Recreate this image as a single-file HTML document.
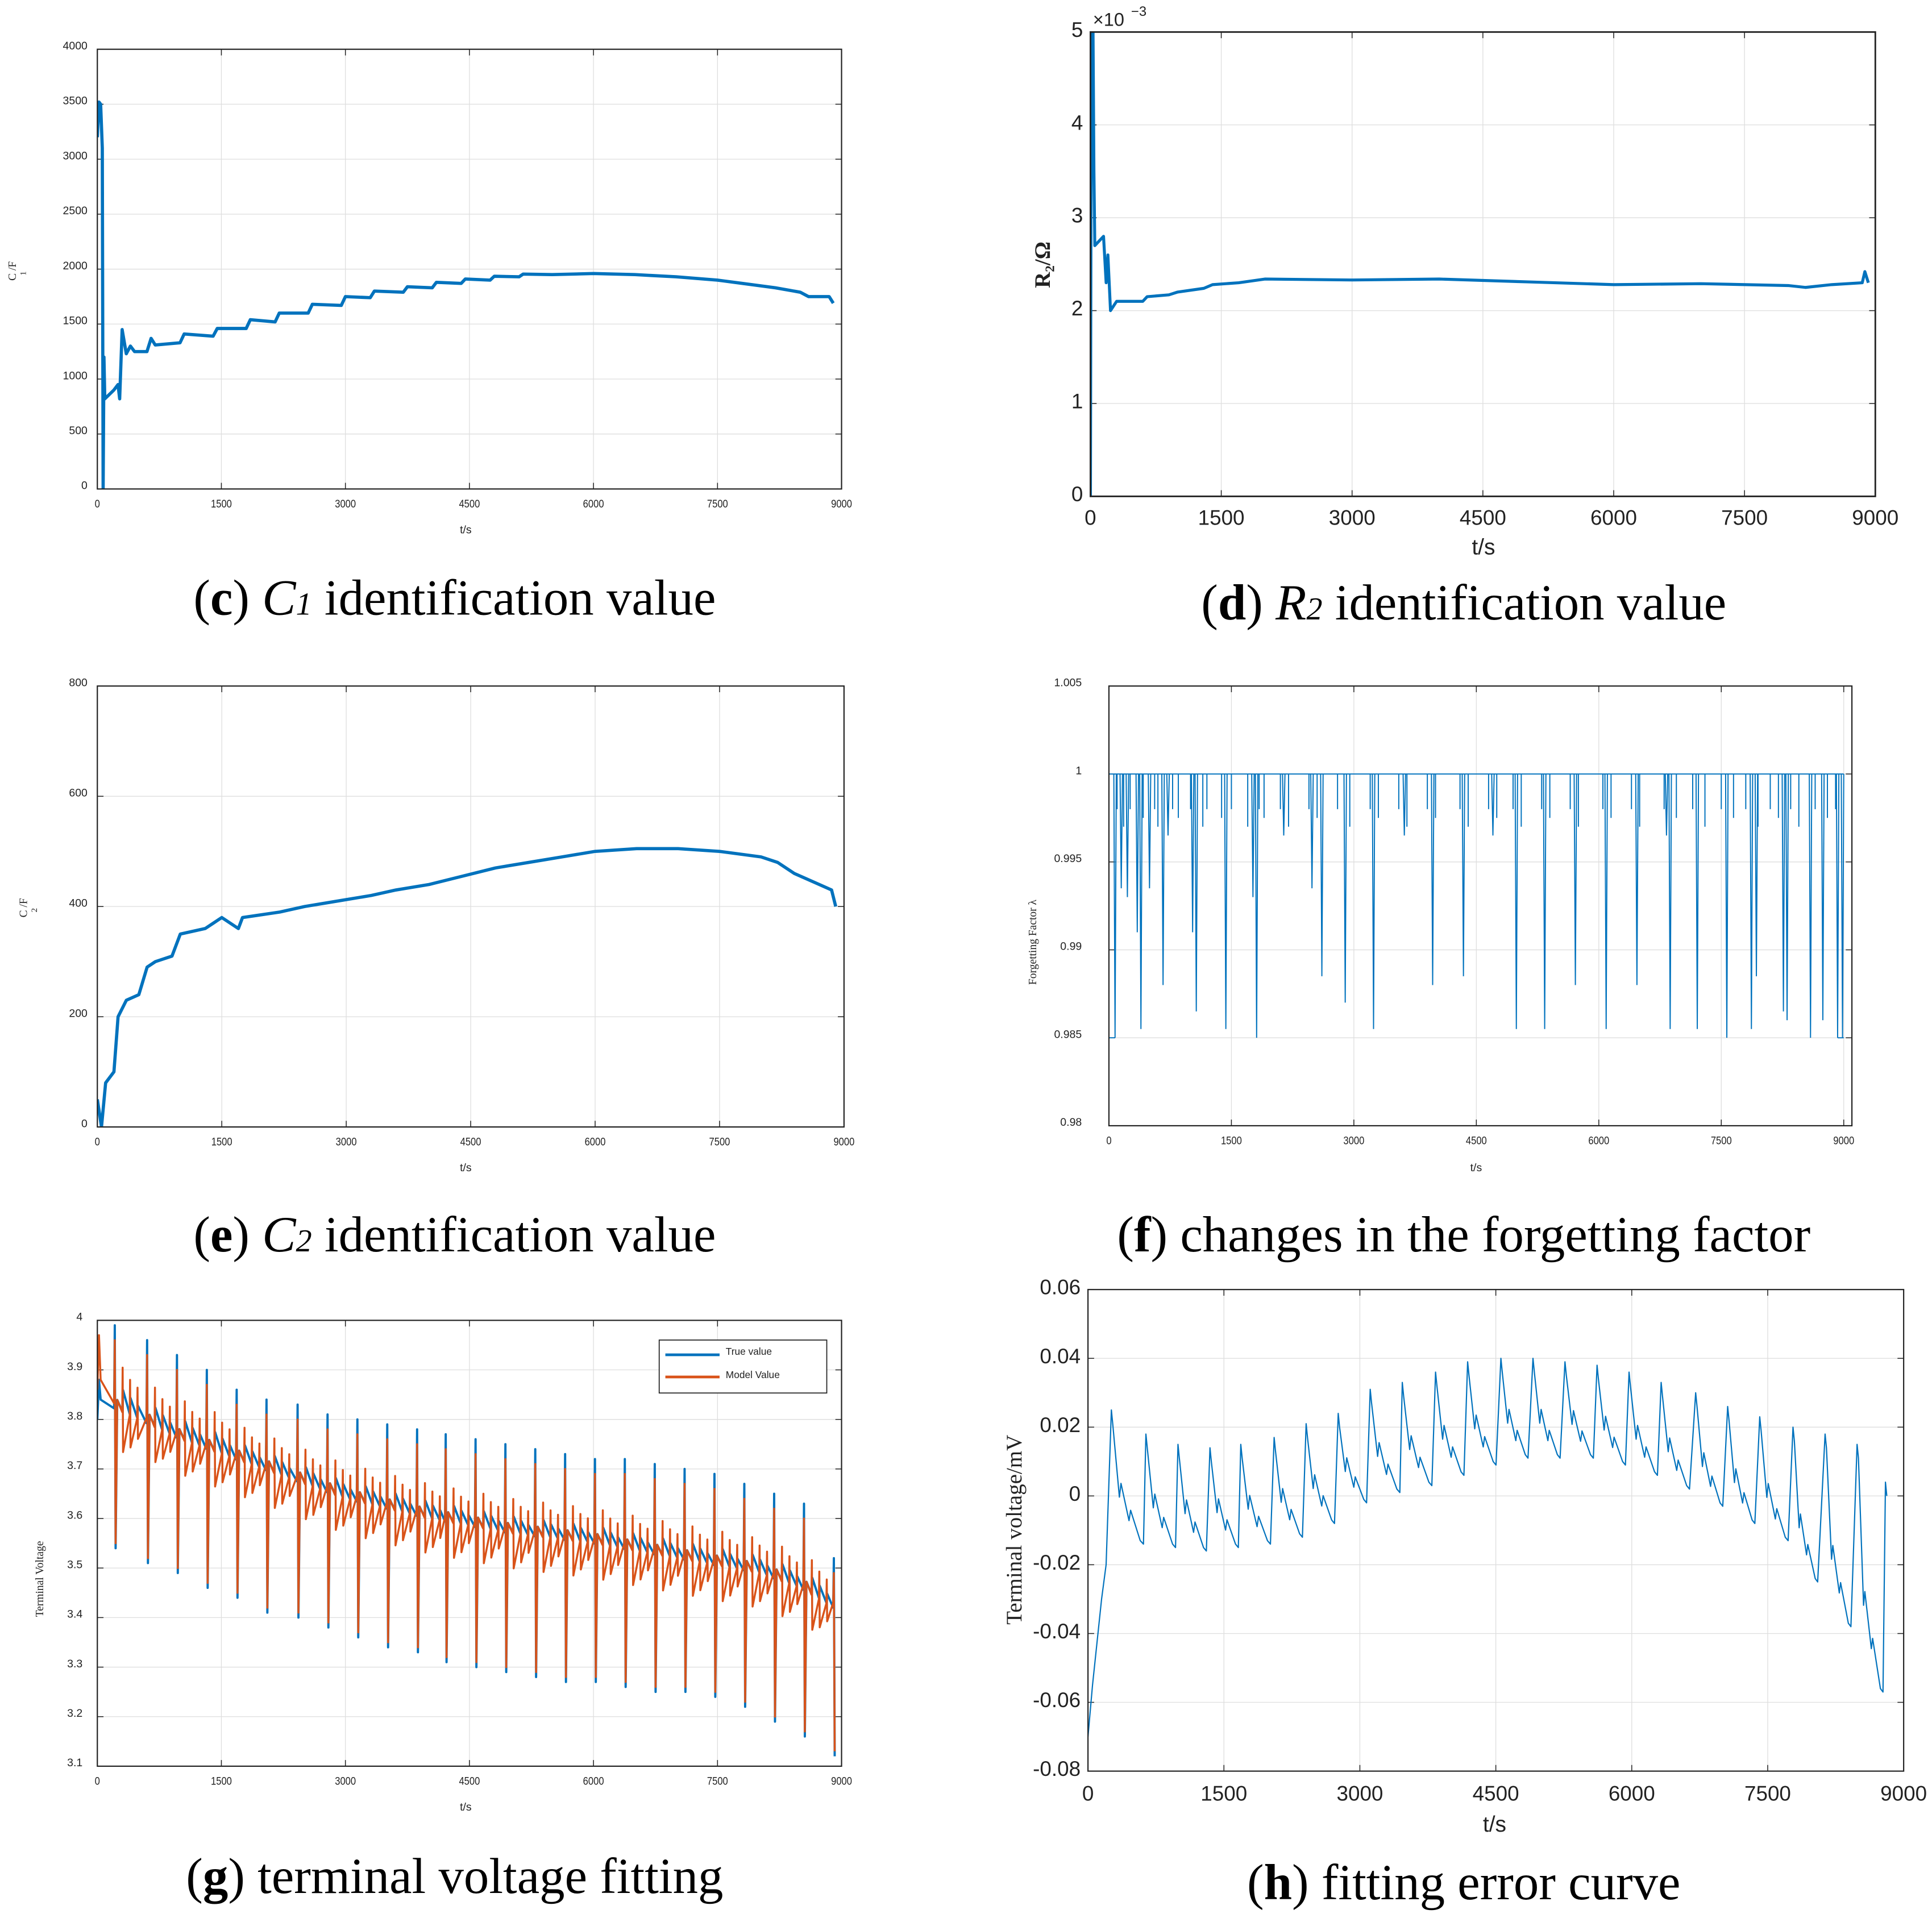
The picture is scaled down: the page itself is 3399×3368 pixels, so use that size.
<!DOCTYPE html>
<html><head><meta charset="utf-8"><style>
html,body{margin:0;padding:0;background:#fff}
svg{display:block}
</style></head><body>
<svg id="fig" xmlns="http://www.w3.org/2000/svg" width="3399" height="3368" viewBox="0 0 1568 1554" preserveAspectRatio="none"></svg>
<script>
// ---------- DATA ----------
const xTicks = [0,1500,3000,4500,6000,7500,9000];
// (c) C1
const c1T = [0,20,40,60,70,80,90,200,250,270,300,350,400,450,600,650,700,1000,1050,1400,1450,1800,1850,2150,2200,2550,2600,2950,3000,3300,3350,3700,3750,4050,4100,4400,4450,4750,4800,5100,5150,5500,6000,6500,7000,7500,7800,8200,8500,8600,8850,8900];
const c1V = [3200,3520,3500,3100,0,1200,820,900,950,820,1450,1230,1300,1250,1250,1370,1310,1330,1410,1390,1460,1460,1540,1520,1600,1600,1680,1670,1750,1740,1800,1790,1840,1830,1880,1870,1910,1900,1935,1930,1955,1950,1960,1950,1930,1900,1870,1830,1790,1750,1750,1690];
const c1Yticks = [0,500,1000,1500,2000,2500,3000,3500,4000];
// (d) R2 (x1e-3)
const r2T = [0,10,30,40,50,150,180,200,230,300,600,650,900,1000,1300,1400,1700,2000,3000,4000,5000,6000,7000,8000,8200,8500,8850,8880,8920];
const r2V = [0,5,5,3.5,2.7,2.8,2.3,2.6,2.0,2.1,2.1,2.15,2.17,2.2,2.24,2.28,2.3,2.34,2.33,2.34,2.31,2.28,2.29,2.27,2.25,2.28,2.3,2.42,2.3];
const r2Yticks = [0,1,2,3,4,5];
// (e) C2
const c2T = [0,50,100,200,250,350,500,600,700,900,1000,1300,1400,1500,1700,1750,2200,2500,2900,3300,3600,4000,4400,4800,5200,5600,6000,6500,7000,7500,8000,8200,8400,8700,8850,8900];
const c2V = [50,0,80,100,200,230,240,290,300,310,350,360,370,380,360,380,390,400,410,420,430,440,455,470,480,490,500,505,505,500,490,480,460,440,430,400];
const c2Yticks = [0,200,400,600,800];
// (f) forgetting factor dips
const ffDipT = [75,151,226,347,392,497,663,724,1025,1070,1432,1764,1809,2141,2487,2608,2894,3241,3618,3965,4342,4703,4990,5337,5713,6090,6467,6829,6874,7206,7568,7869,7930,8261,8306,8593,8744,8925,8985];
const ffDipV = [0.985,0.9935,0.993,0.991,0.9855,0.9935,0.988,0.9965,0.991,0.9865,0.9855,0.993,0.985,0.9965,0.9935,0.9885,0.987,0.9855,0.9965,0.988,0.9885,0.9965,0.9855,0.9855,0.988,0.9855,0.988,0.9965,0.9855,0.9855,0.985,0.9855,0.9885,0.9865,0.986,0.985,0.986,0.985,0.985];
const ffSmallT = [100,180,260,420,560,600,780,850,1000,1150,1200,1380,1500,1700,1840,1900,2100,2200,2450,2550,2800,2950,3200,3300,3550,3650,3900,4000,4300,4400,4650,4750,4950,5050,5300,5400,5650,5750,6050,6150,6400,6500,6800,6950,7150,7300,7500,7650,7800,7950,8100,8200,8350,8450,8650,8800,8900];
const ffSmallV = [0.998,0.997,0.998,0.9975,0.998,0.997,0.998,0.9975,0.998,0.997,0.998,0.9975,0.998,0.997,0.998,0.9975,0.998,0.997,0.998,0.9975,0.998,0.997,0.998,0.9975,0.998,0.997,0.998,0.9975,0.998,0.997,0.998,0.9975,0.998,0.997,0.998,0.9975,0.998,0.997,0.998,0.9975,0.998,0.997,0.998,0.9975,0.998,0.997,0.998,0.9975,0.998,0.997,0.998,0.9975,0.998,0.997,0.998,0.9975,0.998];
const ffYticks = [0.98,0.985,0.99,0.995,1,1.005];
const ffYlabels = ['0.98','0.985','0.99','0.995','1','1.005'];
// (g) terminal voltage
const gBaseT = [0,100,500,1000,2000,3000,4000,5000,6000,7000,8000,8500,8900];
const gBaseV = [3.80,3.83,3.80,3.76,3.70,3.64,3.60,3.57,3.55,3.52,3.49,3.46,3.42];
const gPulseT = [211,602,963,1324,1685,2046,2422,2784,3145,3506,3867,4213,4574,4935,5296,5657,6018,6379,6741,7102,7463,7824,8185,8546,8907];
const gPulseHi = [3.99,3.96,3.93,3.90,3.86,3.84,3.83,3.81,3.80,3.79,3.78,3.77,3.76,3.75,3.74,3.73,3.72,3.72,3.71,3.70,3.69,3.67,3.65,3.63,3.52];
const gPulseLo = [3.54,3.51,3.49,3.46,3.44,3.41,3.40,3.38,3.36,3.34,3.33,3.31,3.30,3.29,3.28,3.27,3.27,3.26,3.25,3.25,3.24,3.22,3.19,3.16,3.12];
const gMinorHi = [0.09,0.08,0.08,0.08,0.07,0.07,0.07,0.07,0.07,0.07,0.07,0.07,0.07,0.07,0.07,0.07,0.07,0.07,0.07,0.07,0.07,0.07,0.07,0.07,0.07];
const gMinorLo = [-0.08,-0.07,-0.07,-0.07,-0.07,-0.07,-0.07,-0.07,-0.07,-0.07,-0.07,-0.07,-0.07,-0.07,-0.07,-0.07,-0.07,-0.07,-0.07,-0.07,-0.07,-0.07,-0.07,-0.07,-0.07];
const gYticks = [3.1,3.2,3.3,3.4,3.5,3.6,3.7,3.8,3.9,4];
// (h) error
const hStartT = [0,50,150,200];
const hStartV = [-0.07,-0.055,-0.03,-0.02];
const hPeakT = [258,639,993,1346,1686,2054,2407,2761,3114,3468,3835,4189,4556,4910,5263,5617,5970,6324,6705,7058,7412,7779,8133,8486,8799];
const hPeakV = [0.025,0.018,0.015,0.014,0.015,0.017,0.021,0.024,0.031,0.033,0.036,0.039,0.040,0.040,0.039,0.038,0.036,0.033,0.030,0.026,0.023,0.020,0.018,0.015,0.004];
const hTroughT = [612,966,1306,1659,2013,2366,2720,3074,3441,3794,4148,4502,4855,5209,5576,5930,6283,6637,7004,7358,7725,8051,8418,8772];
const hTroughV = [-0.014,-0.015,-0.016,-0.015,-0.014,-0.012,-0.008,-0.002,0.001,0.003,0.006,0.009,0.011,0.011,0.011,0.009,0.006,0.002,-0.003,-0.008,-0.013,-0.025,-0.038,-0.057];
const hYticks = [-0.08,-0.06,-0.04,-0.02,0,0.02,0.04,0.06];
const hYlabels = ['-0.08','-0.06','-0.04','-0.02','0','0.02','0.04','0.06'];

// ---------- HELPERS ----------
const NS='http://www.w3.org/2000/svg';
const svg=document.getElementById('fig');
const defs=document.createElementNS(NS,'defs');svg.appendChild(defs);
let clipN=0;
function el(tag,attrs,parent){const e=document.createElementNS(NS,tag);for(const k in attrs)e.setAttribute(k,attrs[k]);(parent||svg).appendChild(e);return e;}
function txt(parent,x,y,s,fs,anchor,extra){const t=el('text',Object.assign({x:x,y:y,'font-size':fs,'text-anchor':anchor||'middle','font-family':'"Liberation Sans",sans-serif',fill:'#222'},extra||{}),parent);t.textContent=s;return t;}
function axes(o){
  const g=el('g',{});
  
  
  const sx=v=>o.x0+(v-o.xmin)/(o.xmax-o.xmin)*(o.x1-o.x0);
  const sy=v=>o.y1-(v-o.ymin)/(o.ymax-o.ymin)*(o.y1-o.y0);
  const cid='clip'+(clipN++);
  const cp=el('clipPath',{id:cid},defs);
  el('rect',{x:o.x0,y:o.y0,width:o.x1-o.x0,height:o.y1-o.y0},cp);
  el('rect',{x:o.x0,y:o.y0,width:o.x1-o.x0,height:o.y1-o.y0,fill:'#fff'},g);
  const grid=el('g',{},g);
  
  
  o.xticks.forEach((v,i)=>{const X=sx(v);
    el('line',{x1:X,x2:X,y1:o.y0,y2:o.y1,stroke:'#dedede','stroke-width':0.6},grid);
    el('line',{x1:X,x2:X,y1:o.y1,y2:o.y1-5,stroke:'#222','stroke-width':0.7},g);
    el('line',{x1:X,x2:X,y1:o.y0,y2:o.y0+5,stroke:'#222','stroke-width':0.7},g);
    const t=txt(g,X+(o.xlOff||0),o.y1+o.xlDy,String(v),o.fs,'middle',o.cond?{transform:`translate(${X} 0) scale(0.85 1) translate(${-X} 0)`}:{});
    
    
  });
  o.yticks.forEach((v,i)=>{const Y=sy(v);
    el('line',{x1:o.x0,x2:o.x1,y1:Y,y2:Y,stroke:'#dedede','stroke-width':0.6},grid);
    el('line',{x1:o.x0,x2:o.x0+5,y1:Y,y2:Y,stroke:'#222','stroke-width':0.7},g);
    el('line',{x1:o.x1,x2:o.x1-5,y1:Y,y2:Y,stroke:'#222','stroke-width':0.7},g);
    const lab=o.ylabels?o.ylabels[i]:String(v);
    const t=txt(g,o.x0-o.ylDx,Y+o.fs*0.35+(o.ylDy||0),lab,o.fs,'end');
    
    
  });
  const plot=el('g',{'clip-path':`url(#${cid})`},g);
  
  
  const frame=()=>el('rect',{x:o.x0,y:o.y0,width:o.x1-o.x0,height:o.y1-o.y0,fill:'none',stroke:'#222','stroke-width':o.bw||1},g);
  return {g,plot,sx,sy,frame};
}
function linePath(g,T,V,sx,sy,color,w,name){
  let d='';T.forEach((t,i)=>{d+=(i?'L':'M')+sx(t).toFixed(2)+' '+sy(V[i]).toFixed(2);});
  const p=el('path',{d:d,fill:'none',stroke:color,'stroke-width':w,'stroke-linejoin':'round'},g);
  
  
  return p;
}
function caption(cx,y,letter,mid,sub,rest,name){
  const t=el('text',{x:cx,y:y,'font-size':41,'text-anchor':'middle','font-family':'"Liberation Serif",serif',fill:'#000'});
  
  
  const a=el('tspan',{},t);a.textContent='(';
  const b=el('tspan',{'font-weight':'bold'},t);b.textContent=letter;
  const c=el('tspan',{},t);c.textContent=') ';
  if(mid){const m=el('tspan',{'font-style':'italic'},t);m.textContent=mid;
    const s=el('tspan',{'font-style':'italic','font-size':26},t);s.textContent=sub;}
  const r=el('tspan',{},t);r.textContent=rest;
}
const BLUE='#0072bd', ORANGE='#d95319';

// ---------- (c) C1 ----------
(function(){
  const A=axes({name:'chart-c1',x0:79,x1:683,y0:40,y1:397,xmin:0,xmax:9000,ymin:0,ymax:4000,xticks:xTicks,yticks:c1Yticks,fs:9,xlDy:15,ylDx:8,ylDy:-3,cond:true});
  linePath(A.plot,c1T,c1V,A.sx,A.sy,BLUE,2.6,'c1-line');
  A.frame();
  const xl=txt(A.g,378,433,'t/s',9);
  const yl=el('text',{x:0,y:0,'font-size':9,'font-family':'"Liberation Serif",serif','text-anchor':'middle',transform:'translate(13 220) rotate(-90)',fill:'#222'},A.g);
  yl.textContent='C   /F';
  const ys=el('text',{x:0,y:0,'font-size':7,'font-family':'"Liberation Serif",serif','text-anchor':'middle',transform:'translate(21 222) rotate(-90)',fill:'#222'},A.g);ys.textContent='1';
  caption(369,499,'c','C','1',' identification value','caption-c');
})();
// ---------- (d) R2 ----------
(function(){
  const A=axes({name:'chart-r2',x0:885,x1:1522,y0:26,y1:403,xmin:0,xmax:9000,ymin:0,ymax:5,xticks:xTicks,yticks:r2Yticks,fs:17,xlDy:23,ylDx:6,ylDy:-2,bw:1.3});
  linePath(A.plot,r2T,r2V,A.sx,A.sy,BLUE,2.4,'r2-line');
  A.frame();
  const ex=txt(A.g,887,21,'×10',15,'start');
  txt(A.g,918,13,'−3',11,'start');
  const xl=txt(A.g,1204,450,'t/s',18);
  const yl=el('text',{x:0,y:0,'font-size':18,'font-weight':'bold','font-family':'"Liberation Serif",serif','text-anchor':'middle',transform:'translate(852 215) rotate(-90)',fill:'#222'},A.g);
  yl.textContent='R₂/Ω';
  caption(1188,503,'d','R','2',' identification value','caption-d');
})();
// ---------- (e) C2 ----------
(function(){
  const A=axes({name:'chart-c2',x0:79,x1:685,y0:557,y1:915,xmin:0,xmax:9000,ymin:0,ymax:800,xticks:xTicks,yticks:c2Yticks,fs:9,xlDy:15,ylDx:8,ylDy:-3,cond:true});
  linePath(A.plot,c2T,c2V,A.sx,A.sy,BLUE,2.6,'c2-line');
  A.frame();
  const xl=txt(A.g,378,951,'t/s',9);
  const yl=el('text',{x:0,y:0,'font-size':9,'font-family':'"Liberation Serif",serif','text-anchor':'middle',transform:'translate(22 737) rotate(-90)',fill:'#222'},A.g);
  yl.textContent='C   /F';
  const ys=el('text',{x:0,y:0,'font-size':7,'font-family':'"Liberation Serif",serif','text-anchor':'middle',transform:'translate(30 739) rotate(-90)',fill:'#222'},A.g);ys.textContent='2';
  caption(369,1016,'e','C','2',' identification value','caption-e');
})();
// ---------- (f) forgetting factor ----------
(function(){
  const A=axes({name:'chart-forgetting-factor',x0:900,x1:1503,y0:557,y1:914,xmin:0,xmax:9100,ymin:0.98,ymax:1.005,xticks:xTicks,yticks:ffYticks,ylabels:ffYlabels,fs:9,xlDy:15,ylDx:22,ylDy:-3,cond:true});
  const lines=el('g',{},A.plot);
  
  
  el('line',{x1:A.sx(0),x2:A.sx(9000),y1:A.sy(1),y2:A.sy(1),stroke:BLUE,'stroke-width':0.9},lines);
  el('line',{x1:A.sx(0),x2:A.sx(0),y1:A.sy(1),y2:A.sy(0.985),stroke:BLUE,'stroke-width':0.9},lines);
  el('line',{x1:A.sx(0),x2:A.sx(75),y1:A.sy(0.985),y2:A.sy(0.985),stroke:BLUE,'stroke-width':0.9},lines);
  el('line',{x1:A.sx(8925),x2:A.sx(9000),y1:A.sy(0.985),y2:A.sy(0.985),stroke:BLUE,'stroke-width':0.9},lines);
  ffDipT.forEach((t,i)=>{const X=A.sx(t);el('path',{d:`M${X-1} ${A.sy(1)}L${X} ${A.sy(ffDipV[i])}L${X+1} ${A.sy(1)}`,fill:'none',stroke:BLUE,'stroke-width':0.9},lines);});
  ffSmallT.forEach((t,i)=>{const X=A.sx(t);el('line',{x1:X,x2:X,y1:A.sy(1),y2:A.sy(ffSmallV[i]),stroke:BLUE,'stroke-width':0.9},lines);});
  A.frame();
  const xl=txt(A.g,1198,951,'t/s',9);
  const yl=el('text',{x:0,y:0,'font-size':9,'font-family':'"Liberation Serif",serif','text-anchor':'middle',transform:'translate(841 765) rotate(-90)',fill:'#222'},A.g);
  yl.textContent='Forgetting Factor λ';
  caption(1188,1016,'f','','',' changes in the forgetting factor','caption-f');
})();
// ---------- (g) terminal voltage ----------
function baseAt(t){for(let i=1;i<gBaseT.length;i++){if(t<=gBaseT[i]){const f=(t-gBaseT[i-1])/(gBaseT[i]-gBaseT[i-1]);return gBaseV[i-1]+f*(gBaseV[i]-gBaseV[i-1]);}}return gBaseV[gBaseV.length-1];}
(function(){
  const A=axes({name:'chart-terminal-voltage',x0:79,x1:683,y0:1072,y1:1434,xmin:0,xmax:9000,ymin:3.1,ymax:4,xticks:xTicks,yticks:gYticks,fs:9,xlDy:15,ylDx:12,ylDy:-3,cond:true});
  function series(model){
    const T=[0],V=[model?3.86:3.80];
    if(model){T.push(20,40);V.push(3.97,3.88);}else{T.push(20,40);V.push(3.88,3.84);}
    gPulseT.forEach((p,i)=>{
      T.push(p-8,p,p+10,p+30);
      V.push(baseAt(p-8)+(model?0.01:0),gPulseHi[i]-(model?0.03:0),gPulseLo[i]+(model?0.01:0),baseAt(p+30)+0.02);
      if(model){
        T.push(p+90,p+95,p+100,p+180,p+185,p+190,p+270,p+275,p+280);
        V.push(baseAt(p+90),baseAt(p+95)+gMinorHi[i],baseAt(p+100)+gMinorLo[i],baseAt(p+180),baseAt(p+185)+gMinorHi[i]*0.8,baseAt(p+190)+gMinorLo[i]*0.8,baseAt(p+270),baseAt(p+275)+gMinorHi[i]*0.7,baseAt(p+280)+gMinorLo[i]*0.5);
      } else {
        T.push(p+95,p+100,p+185,p+190,p+275,p+280);
        V.push(baseAt(p+95),baseAt(p+100)+gMinorHi[i]*0.5,baseAt(p+185),baseAt(p+190)+gMinorHi[i]*0.4,baseAt(p+275),baseAt(p+280)+gMinorHi[i]*0.3);
      }
    });
    // stop at end of data
    const keep=T.map((t,i)=>t<=8930);
    return [T.filter((t,i)=>keep[i]),V.filter((v,i)=>keep[i])];
  }
  const b=series(false), m=series(true);
  linePath(A.plot,b[0],b[1],A.sx,A.sy,BLUE,1.8,'true-value-line');
  linePath(A.plot,m[0],m[1],A.sx,A.sy,ORANGE,1.6,'model-value-line');
  A.frame();
  const lg=el('g',{});A.g.appendChild(lg);
  el('rect',{x:535,y:1088,width:136,height:43,fill:'#fff',stroke:'#222','stroke-width':0.8},lg);
  el('line',{x1:540,x2:584,y1:1100,y2:1100,stroke:BLUE,'stroke-width':2.2},lg);
  el('line',{x1:540,x2:584,y1:1118,y2:1118,stroke:ORANGE,'stroke-width':2.2},lg);
  txt(lg,589,1100,'True value',8,'start');
  txt(lg,589,1119,'Model Value',8,'start');
  const xl=txt(A.g,378,1470,'t/s',9);
  const yl=el('text',{x:0,y:0,'font-size':9,'font-family':'"Liberation Serif",serif','text-anchor':'middle',transform:'translate(35 1282) rotate(-90)',fill:'#222'},A.g);
  yl.textContent='Terminal Voltage';
  caption(369,1537,'g','','',' terminal voltage fitting','caption-g');
})();
// ---------- (h) error ----------
(function(){
  const A=axes({name:'chart-fitting-error',x0:883,x1:1545,y0:1047,y1:1438,xmin:0,xmax:9000,ymin:-0.08,ymax:0.06,xticks:xTicks,yticks:hYticks,ylabels:hYlabels,fs:17,xlDy:24,ylDx:6,ylDy:-2,bw:1});
  const T=hStartT.slice(),V=hStartV.slice();
  hPeakT.forEach((p,i)=>{
    T.push(p,p+15);V.push(hPeakV[i],hPeakV[i]-0.004);
    if(i<hTroughT.length){const tr=hTroughT[i];const span=tr-p;
      const mid=hTroughV[i]+0.35*(hPeakV[i]-hTroughV[i]);
      T.push(p+span*0.25,p+span*0.3,p+span*0.55,p+span*0.6,p+span*0.9,tr);
      V.push(mid,mid+0.004,(mid+hTroughV[i])/2,(mid+hTroughV[i])/2+0.003,hTroughV[i]+0.001,hTroughV[i]);}
  });
  linePath(A.plot,T,V,A.sx,A.sy,BLUE,1,'error-line');
  A.frame();
  const xl=txt(A.g,1213,1487,'t/s',18);
  const yl=el('text',{x:0,y:0,'font-size':18,'font-family':'"Liberation Serif",serif','text-anchor':'middle',transform:'translate(829 1242) rotate(-90)',fill:'#222'},A.g);
  yl.textContent='Terminal voltage/mV';
  caption(1188,1542,'h','','',' fitting error curve','caption-h');
})();
</script>
</body></html>
